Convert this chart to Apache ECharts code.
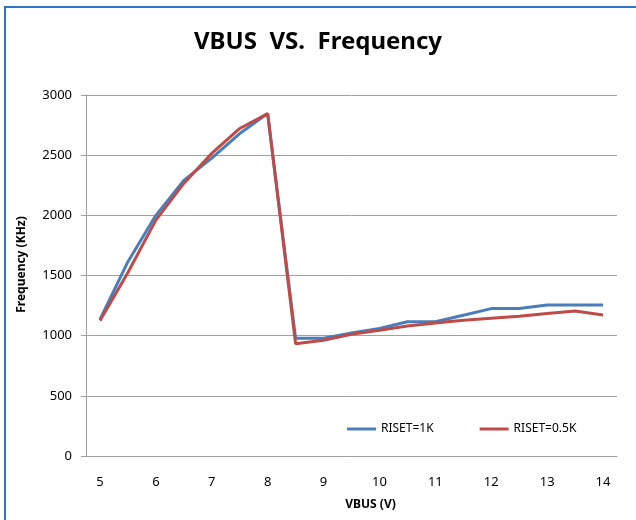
<!DOCTYPE html>
<html>
<head>
<meta charset="utf-8">
<script src="https://cdn.jsdelivr.net/npm/echarts@6/dist/echarts.min.js"></script>
<style>
  html, body { margin: 0; padding: 0; background: #fff; }
  #chart { width: 636px; height: 520px; }
</style>
</head>
<body>
<div id="chart"></div>
<script>
// VBUS 电压点 (V)
var vbus = ['5', '5.5', '6', '6.5', '7', '7.5', '8', '8.5', '9', '9.5', '10',
            '10.5', '11', '11.5', '12', '12.5', '13', '13.5', '14'];
// 频率 (KHz)
var riset1k = [1135, 1615, 2000, 2290, 2475, 2680, 2845, 978, 978, 1022, 1060,
               1115, 1115, 1170, 1225, 1225, 1255, 1255, 1255];
var riset05k = [1125, 1525, 1960, 2265, 2515, 2722, 2845, 932, 962, 1012, 1045,
                1080, 1105, 1128, 1145, 1162, 1185, 1205, 1172];
var yTicks = [0, 500, 1000, 1500, 2000, 2500, 3000];

var font = 'Noto Sans';
var myChart = echarts.init(document.getElementById('chart'));
var option = {
  animation: false,
  backgroundColor: '#fff',
  title: {
    text: 'VBUS  VS.  Frequency',
    left: 'center',
    top: 25,
    textStyle: { fontFamily: font, fontSize: 24, fontWeight: 'bold', color: '#000' }
  },
  graphic: [{
    type: 'rect',
    shape: { x: 5, y: 7, width: 700, height: 600 },
    style: { fill: 'none', stroke: '#2f75c8', lineWidth: 2 },
    silent: true
  }],
  legend: {
    left: 342,
    top: 418,
    icon: 'rect',
    itemWidth: 29,
    itemHeight: 3,
    itemGap: 46,
    textStyle: { fontFamily: font, fontSize: 12, color: '#000' },
    data: ['RISET=1K', 'RISET=0.5K']
  },
  grid: { left: 86, right: 19, top: 95, bottom: 64, outerBoundsMode: 'none', containLabel: false },
  xAxis: {
    type: 'category',
    data: vbus,
    boundaryGap: true,
    name: 'VBUS (V)',
    nameLocation: 'middle',
    nameGap: 43,
    nameTextStyle: { fontFamily: font, fontSize: 12, fontWeight: 'bold', color: '#000', padding: [0, 0, 0, 38] },
    axisLine: { lineStyle: { color: '#a0a0a0', width: 1 } },
    axisTick: { show: false },
    axisLabel: { interval: 1, margin: 20, fontFamily: font, fontSize: 13, color: '#000' }
  },
  yAxis: {
    type: 'value',
    min: 0,
    max: 3000,
    interval: 500,
    name: 'Frequency (KHz)',
    nameLocation: 'middle',
    nameGap: 58,
    nameTextStyle: { fontFamily: font, fontSize: 12, fontWeight: 'bold', color: '#000', padding: [0, 0, 0, 22] },
    axisLine: { show: true, lineStyle: { color: '#a0a0a0', width: 1 } },
    axisTick: { show: true, length: 5, lineStyle: { color: '#a0a0a0' } },
    axisLabel: {
      margin: 14, fontFamily: font, fontSize: 13, color: '#000',
      customValues: yTicks,
      formatter: function (v) { return String(v); }
    },
    splitLine: { lineStyle: { color: '#a0a0a0', width: 1 } }
  },
  series: [
    {
      name: 'RISET=1K',
      type: 'line',
      data: riset1k,
      symbol: 'none',
      itemStyle: { color: '#4a7ebb' },
      lineStyle: { color: '#4a7ebb', width: 3 }
    },
    {
      name: 'RISET=0.5K',
      type: 'line',
      data: riset05k,
      symbol: 'none',
      itemStyle: { color: '#be4b48' },
      lineStyle: { color: '#be4b48', width: 3 }
    }
  ]
};
myChart.clear();
myChart.setOption(option);
window.addEventListener("resize", function () {
  myChart.resize();
});
</script>
</body>
</html>
